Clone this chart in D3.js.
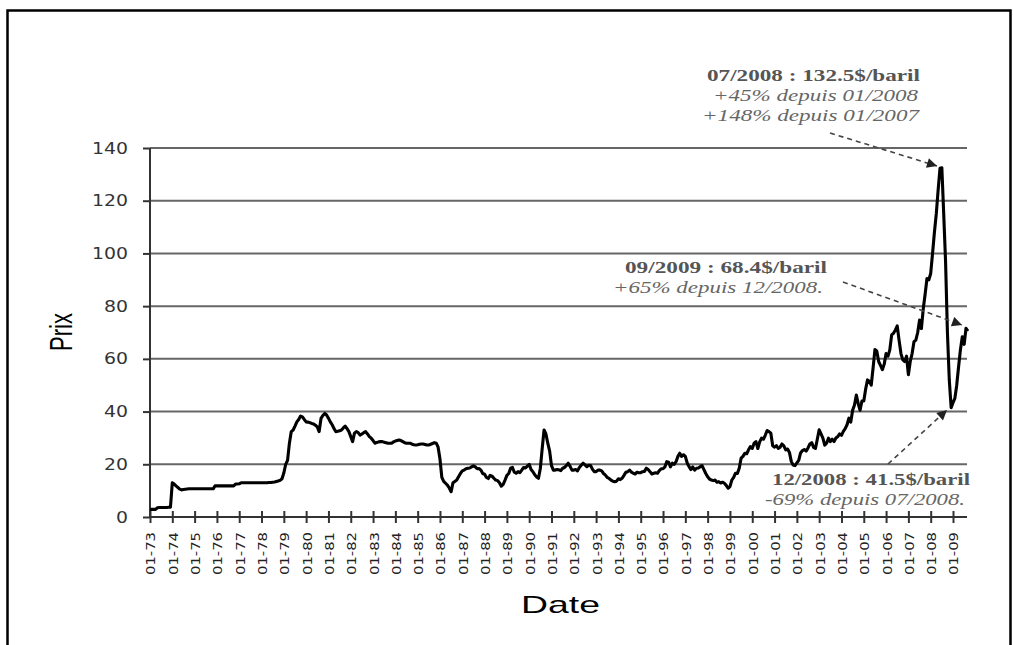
<!DOCTYPE html>
<html><head><meta charset="utf-8">
<script src="https://cdn.jsdelivr.net/npm/d3@7"></script>
<style>html,body{margin:0;padding:0;background:#fff;}svg{display:block;}</style>
</head><body>
<svg id="chart" width="1013" height="645"></svg>
<script>
// Prix mensuels ($/baril), de 01/1973 à 09/2009
const prix1973_1979 = [
  2.9,2.9,2.9,2.9,3.5,3.6,3.6,3.6,3.6,3.6,3.7,3.7,
  13.0,12.5,11.8,11.2,10.6,10.3,10.4,10.5,10.6,10.7,10.7,10.7,
  10.7,10.7,10.7,10.7,10.7,10.7,10.7,10.7,10.7,10.7,10.7,11.8,
  11.8,11.8,11.8,11.8,11.8,11.8,11.8,11.8,11.8,11.8,12.5,12.5,
  12.6,13.0,13.0,13.0,13.0,13.0,13.0,13.0,13.0,13.0,13.0,13.0,
  13.0,13.0,13.0,13.0,13.1,13.1,13.2,13.3,13.5,13.7,13.9,14.5,
  16.7,20.0,21.5,28.0,32.4,33.0,34.5,36.1,37.0,38.3,38.0,37.0
];
const prix1980_1989 = [
  36.1,36.0,35.8,35.5,35.3,34.8,34.2,32.4,37.4,38.5,39.3,38.7,
  37.5,36.1,35.0,33.5,32.4,32.5,32.7,33.0,33.8,34.5,33.5,32.4,
  30.5,28.6,31.8,32.4,32.0,31.1,31.5,32.0,32.4,31.5,30.5,29.9,
  29.0,28.0,28.3,28.5,28.6,28.6,28.4,28.2,28.0,28.0,28.0,28.5,
  28.8,29.0,29.2,29.0,28.6,28.2,28.0,28.0,28.0,27.6,27.4,27.3,
  27.4,27.6,27.7,27.7,27.5,27.3,27.3,27.6,27.9,28.2,28.0,26.5,
  22.0,15.0,13.5,12.8,12.1,11.0,9.6,13.0,13.5,14.0,15.3,16.5,
  17.5,17.8,18.3,18.5,18.6,19.0,19.4,19.0,18.3,18.4,17.8,16.5,
  16.2,15.0,14.6,15.8,15.5,14.7,14.0,13.8,13.0,11.7,12.4,14.0,
  15.8,16.5,18.5,18.8,17.0,16.6,17.2,16.8,17.8,18.8,18.6,19.3
];
const prix1990_1999 = [
  20.0,18.0,17.2,16.0,15.2,14.7,18.5,26.0,33.0,31.5,28.0,25.0,
  19.5,17.8,17.8,18.0,17.9,17.6,18.5,18.8,19.5,20.4,19.2,17.8,
  17.8,18.0,17.5,18.8,19.6,20.4,19.8,19.1,19.6,19.5,18.2,17.2,
  17.2,17.8,17.8,17.5,16.5,15.9,15.0,14.6,14.0,13.6,13.4,13.6,
  14.5,14.2,14.7,15.8,17.0,17.2,17.8,17.0,16.6,16.3,17.0,16.8,
  16.8,17.2,17.3,18.5,18.0,17.2,16.3,16.6,16.8,16.6,17.6,18.3,
  18.3,19.0,21.0,20.8,19.0,20.4,20.0,21.0,23.0,24.2,23.0,23.6,
  23.0,20.5,19.1,18.0,19.0,17.8,18.5,18.6,19.1,19.5,18.0,16.5,
  15.3,14.4,14.0,13.8,14.0,13.2,13.4,12.9,13.2,12.8,12.0,10.9,
  11.5,14.0,15.0,16.6,16.5,18.5,22.3,23.0,24.2,24.0,25.5,26.7
];
const prix2000_2009 = [
  26.0,28.0,28.6,26.0,28.5,29.9,29.5,31.0,32.8,32.4,31.8,27.0,
  26.5,27.1,26.0,26.5,27.7,27.0,25.5,25.8,24.5,21.1,19.7,19.5,
  20.5,21.5,24.3,25.2,25.6,25.0,26.2,27.7,28.2,26.4,26.0,29.5,
  33.1,31.5,29.9,27.3,28.0,29.9,28.6,29.5,28.6,30.0,30.5,31.5,
  31.0,32.5,33.5,35.0,37.5,36.0,40.5,42.5,46.3,43.0,40.5,44.0,
  44.0,48.5,52.0,51.5,50.0,56.5,63.5,63.0,59.0,57.5,55.9,58.0,
  62.0,61.0,63.4,69.1,69.7,71.0,72.5,67.0,62.0,59.6,59.0,61.0,
  54.0,59.0,62.0,66.5,67.1,70.0,74.7,71.5,79.0,84.5,90.5,90.0,
  92.4,100.0,108.0,115.0,124.0,132.3,132.5,115.0,97.0,70.0,52.0,41.5,
  43.4,45.0,50.0,57.0,63.5,68.4,65.5,71.6,70.5
];
const xTickLabels = ["01-73","01-74","01-75","01-76","01-77","01-78","01-79","01-80","01-81","01-82",
  "01-83","01-84","01-85","01-86","01-87","01-88","01-89","01-90","01-91","01-92","01-93","01-94",
  "01-95","01-96","01-97","01-98","01-99","01-00","01-01","01-02","01-03","01-04","01-05","01-06",
  "01-07","01-08","01-09"];
const yTicks = [0,20,40,60,80,100,120,140];
const annotations = [
  {lines:["07/2008 : 132.5$/baril","+45% depuis 01/2008","+148% depuis 01/2007"]},
  {lines:["09/2009 : 68.4$/baril","+65% depuis 12/2008."]},
  {lines:["12/2008 : 41.5$/baril","-69% depuis 07/2008."]}
];

const prix = [].concat(prix1973_1979, prix1980_1989, prix1990_1999, prix2000_2009);

const svg = d3.select("#chart");
svg.append("rect").attr("width",1013).attr("height",645).attr("fill","#fff");
// frame
svg.append("path").attr("d","M7.5,660 L7.5,10.5 L1010.5,10.5 L1010.5,660")
  .attr("fill","none").attr("stroke","#000").attr("stroke-width",2.5);

const x = d3.scaleLinear().domain([0, 432]).range([150, 953]);
const y = d3.scaleLinear().domain([0, 140]).range([517, 148]);
const xEnd = 967;

// grid
svg.append("g").selectAll("line").data(yTicks.filter(d=>d>0)).join("line")
  .attr("x1",150).attr("x2",xEnd).attr("y1",d=>y(d)).attr("y2",d=>y(d))
  .attr("stroke","#666").attr("stroke-width",2);

// y axis
const yAxis = svg.append("g").attr("transform","translate(150,0)")
  .call(d3.axisLeft(y).tickValues(yTicks).tickSize(7).tickPadding(15).tickFormat(d3.format("d")));
yAxis.select(".domain").attr("stroke","#333").attr("stroke-width",2).attr("d","M0,"+y(140)+"V"+y(0));
yAxis.selectAll(".tick line").attr("stroke","#333").attr("stroke-width",2);
yAxis.selectAll(".tick text").attr("fill","#333").attr("font-family","DejaVu Sans").attr("font-size",16)
  .attr("textLength",d=>String(d).length*12).attr("lengthAdjust","spacingAndGlyphs");

// x axis
const tickIdx = xTickLabels.map((_,i)=>i*12);
const xAxis = svg.append("g").attr("transform","translate(0,517)")
  .call(d3.axisBottom(x).tickValues(tickIdx).tickSize(6).tickFormat((d,i)=>xTickLabels[i]));
xAxis.select(".domain").attr("stroke","#333").attr("stroke-width",2).attr("d","M150,0H"+xEnd);
xAxis.selectAll(".tick line").attr("stroke","#333").attr("stroke-width",2).attr("y1",-6).attr("y2",6);
xAxis.selectAll(".tick text")
  .attr("transform","rotate(-90)").attr("x",-15).attr("y",0).attr("dy","0.38em")
  .attr("text-anchor","end").attr("fill","#222").attr("font-family","DejaVu Sans").attr("font-size",13)
  .attr("textLength",43).attr("lengthAdjust","spacingAndGlyphs");

// axis titles
svg.append("text").attr("transform","translate(72,332) scale(1.4,1) rotate(-90)")
  .attr("text-anchor","middle").attr("font-family","Liberation Sans").attr("font-size",22)
  .attr("fill","#000").text("Prix");
svg.append("text").attr("x",521).attr("y",613).attr("font-family","Liberation Sans").attr("font-size",24)
  .attr("fill","#000").attr("textLength",79).attr("lengthAdjust","spacingAndGlyphs").text("Date");

// price line
svg.append("path").datum(prix)
  .attr("d", d3.line().x((d,i)=>x(i)).y(d=>y(d)))
  .attr("fill","none").attr("stroke","#000").attr("stroke-width",3.1).attr("stroke-linejoin","round");

// arrows
const defs = svg.append("defs");
defs.append("marker").attr("id","arr").attr("viewBox","0 0 10 10").attr("refX",10).attr("refY",5)
  .attr("markerWidth",13).attr("markerHeight",10).attr("markerUnits","userSpaceOnUse").attr("orient","auto")
  .append("path").attr("d","M0,0L10,5L0,10Z").attr("fill","#222");
const arrows = [[830,133,937,166],[843,282,962,325],[888,464,947,410]];
svg.append("g").selectAll("line").data(arrows).join("line")
  .attr("x1",d=>d[0]).attr("y1",d=>d[1]).attr("x2",d=>d[2]).attr("y2",d=>d[3])
  .attr("stroke","#444").attr("stroke-width",1.6).attr("stroke-dasharray","5,4")
  .attr("marker-end","url(#arr)");

// annotation texts
const annLayout = [
  [{x:707,y:81,w:213},{x:713,y:101,w:205},{x:702,y:121,w:217}],
  [{x:625,y:273,w:202},{x:613,y:293,w:210}],
  [{x:772,y:485,w:198},{x:765,y:505,w:200}]
];
annotations.forEach((a,ai)=>{
  a.lines.forEach((t,li)=>{
    const p = annLayout[ai][li];
    svg.append("text").attr("x",p.x).attr("y",p.y)
      .attr("font-family","Liberation Serif").attr("font-size",17)
      .attr("font-weight",li===0?"bold":"normal").attr("font-style",li===0?"normal":"italic")
      .attr("fill",li===0?"#555":"#666")
      .attr("textLength",p.w).attr("lengthAdjust","spacingAndGlyphs").text(t);
  });
});
</script>
</body></html>
